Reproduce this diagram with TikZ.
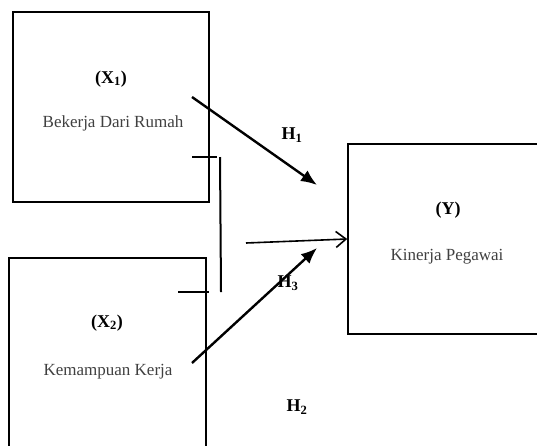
\documentclass[tikz,border=0pt]{standalone}
\usepackage{fontspec}
\setmainfont{Liberation Serif}
\usetikzlibrary{arrows.meta,calc}

\begin{document}
\begin{tikzpicture}[>=Stealth,x=1pt,y=-1pt,
		kotak/.style={draw,line width=1.6pt,inner sep=0pt},
		nama/.style={font=\fontsize{17}{20}\selectfont,text=black!75},
		kode/.style={font=\fontsize{18}{20}\selectfont\bfseries},
		panah/.style={line width=2.4pt,-{Latex[length=16pt,width=13pt]}}]
		\clip (0,0) rectangle (537,445);
		% kotak variabel
		\node[kotak,minimum width=196pt,minimum height=190pt] (x1) at (111,107) {};
		\node[kotak,minimum width=197pt,minimum height=204pt] (x2) at (107.5,360) {};
		\node[kotak,minimum width=204pt,minimum height=190pt] (y) at (450,239) {};
		\node[kode] (x1kode) at (111,79) {(X\textsubscript{1})};
		\node[nama] (x1nama) at (113,123) {Bekerja Dari Rumah};
		\node[kode] (x2kode) at (107,323) {(X\textsubscript{2})};
		\node[nama] (x2nama) at (108,372) {Kemampuan Kerja};
		\node[kode] (ykode) at (448,210) {(Y)};
		\node[nama] (ynama) at (447,257) {Kinerja Pegawai};
		% hipotesis
		\node[kode] (h1) at (292,135) {H\textsubscript{1}};
		\node[kode] (h3) at (288,283) {H\textsubscript{3}};
		\node[kode] (h2) at (297,407) {H\textsubscript{2}};
		% panah
		\coordinate (a1) at (192,97);
		\coordinate (b1) at (317,185);
		\coordinate (a3) at (192,363);
		\coordinate (b3) at (317,248);
		\coordinate (a2) at (246,243);
		\draw[panah] (a1)--(b1);
		\draw[panah] (a3)--(b3);
		\draw[line width=1.6pt,-{Straight Barb[length=10pt,width=16pt]}] (a2)--(y.west);
		% garis gabungan
		\coordinate (k1) at (192,157);
		\coordinate (k2) at (217,157);
		\coordinate (k3) at (220,157);
		\coordinate (k4) at (221,292);
		\coordinate (k5) at (178,292);
		\coordinate (k6) at (209,292);
		\draw[line width=1.6pt] (k1)--(k2) (k5)--(k6);
		\draw[line width=2pt] (k3)--(k4);
	\end{tikzpicture}
\end{document}
